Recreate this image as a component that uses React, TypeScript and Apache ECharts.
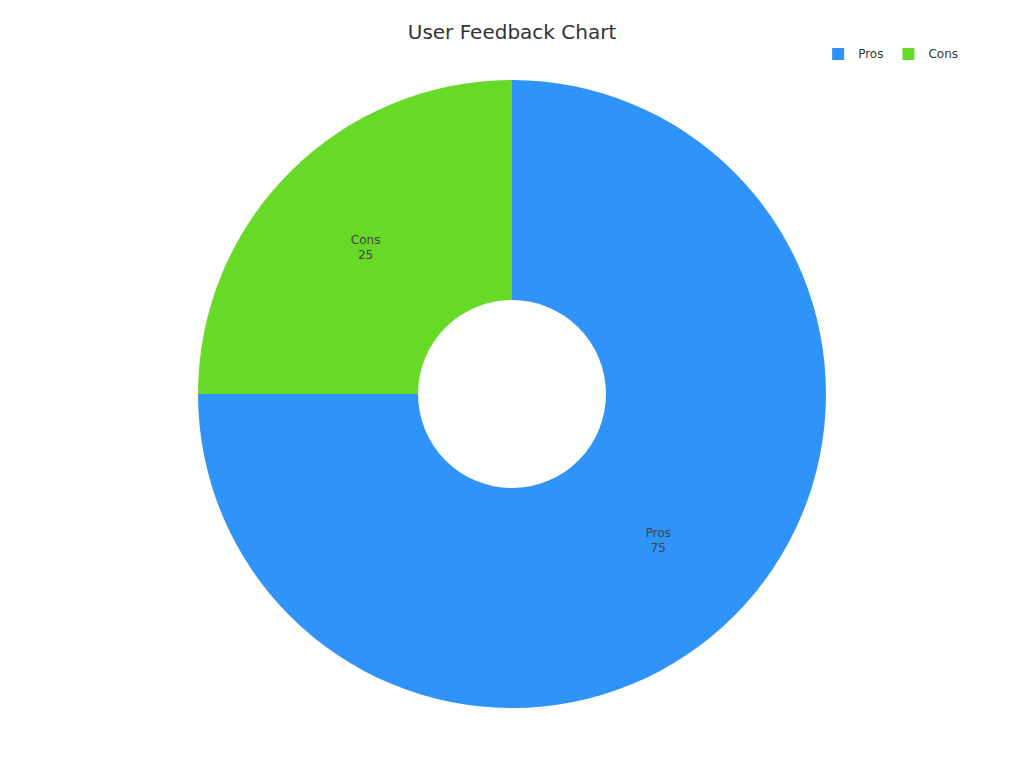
import { useEffect, useRef } from 'react'
import * as echarts from 'echarts'

const categories = ['Pros', 'Cons']
const values = [75, 25]
const colors = ['#2f93f8', '#67da28']

export default function App() {
  const chartRef = useRef<HTMLDivElement>(null)

  useEffect(() => {
    document.body.style.margin = '0'
    if (!chartRef.current) return
    const chart = echarts.init(chartRef.current, undefined, { renderer: 'svg' })

    const option = {
      animation: false,
      textStyle: { fontFamily: 'DejaVu Sans' },
      title: {
        text: 'User Feedback Chart',
        left: 'center',
        top: 17,
        textStyle: { fontSize: 20, fontWeight: 'normal', color: '#333' },
      },
      legend: {
        data: categories,
        right: 61,
        top: 43,
        itemWidth: 12,
        itemHeight: 12,
        itemGap: 19,
        icon: 'rect',
        textStyle: { fontSize: 12, color: '#333', padding: [0, 0, 0, 9] },
      },
      series: [
        {
          type: 'pie',
          center: [512, 394],
          radius: [94, 314],
          startAngle: 90,
          clockwise: true,
          label: {
            position: 'inside',
            formatter: '{b}\n{c}',
            color: '#444',
            fontSize: 12,
            lineHeight: 15,
          },
          labelLine: { show: false },
          data: categories.map((name, i) => ({
            name,
            value: values[i],
            itemStyle: { color: colors[i] },
          })),
        },
      ],
    }

    chart.setOption(option)
    return () => chart.dispose()
  }, [])

  return <div ref={chartRef} style={{ width: 1024, height: 768 }} />
}
